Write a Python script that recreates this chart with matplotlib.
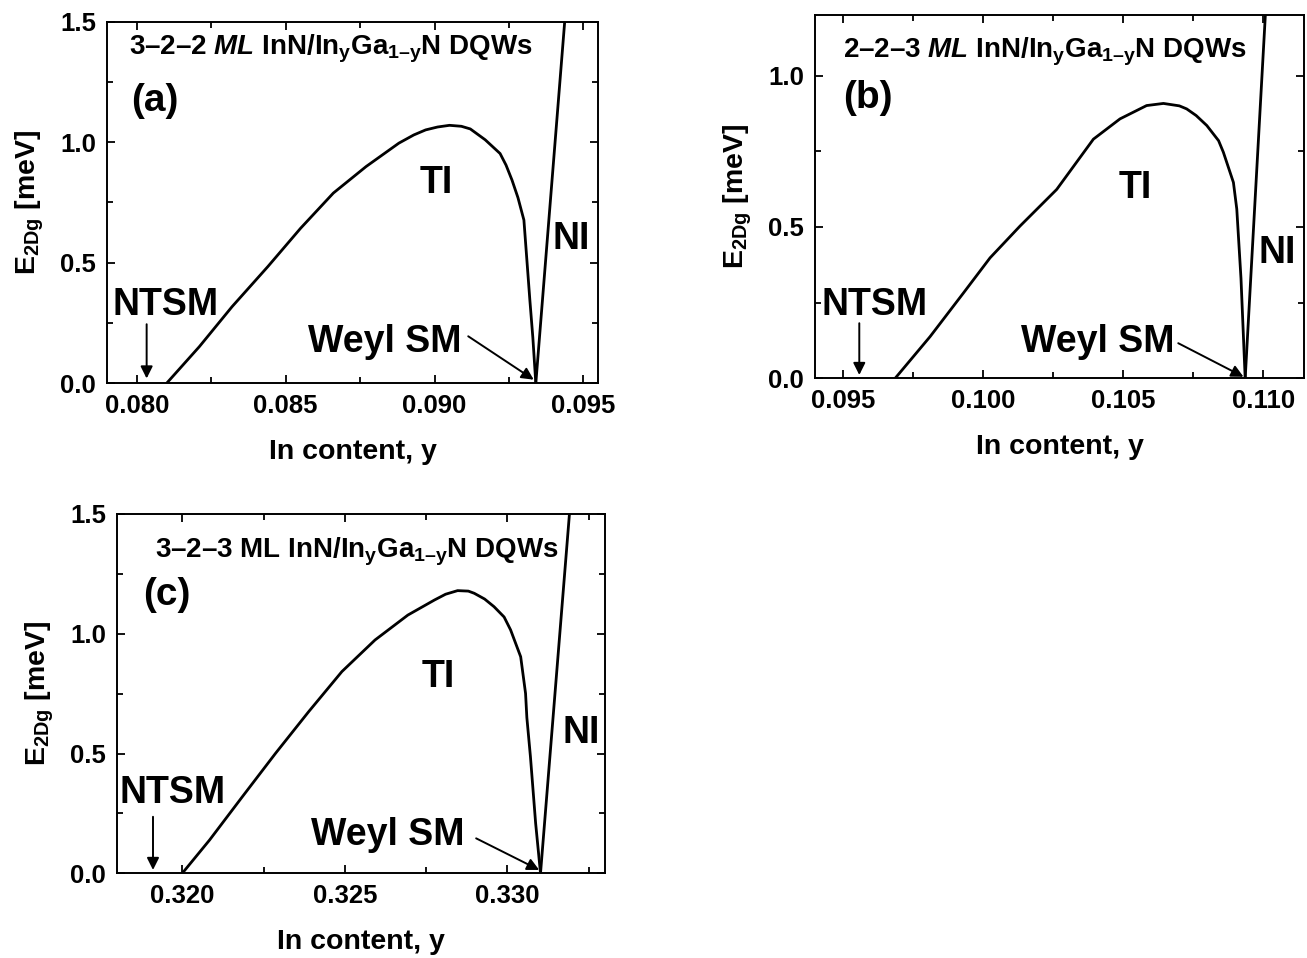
import matplotlib
matplotlib.use("Agg")
import matplotlib.pyplot as plt
from matplotlib.ticker import MultipleLocator, FormatStrFormatter

plt.rcParams['font.family'] = ['Liberation Sans', 'DejaVu Sans']
plt.rcParams['font.weight'] = 'bold'
plt.rcParams['mathtext.fontset'] = 'custom'
plt.rcParams['mathtext.rm'] = 'Liberation Sans:bold'
plt.rcParams['mathtext.bf'] = 'Liberation Sans:bold'
plt.rcParams['mathtext.it'] = 'Liberation Sans:bold:italic'
plt.rcParams['mathtext.default'] = 'bf'

# panel (a): 3-2-2 ML
y_a = [0.0810, 0.0821, 0.0832, 0.0844, 0.0855, 0.0866, 0.0877, 0.0888, 0.0893, 0.0897,
       0.0901, 0.0905, 0.0909, 0.0912, 0.0917, 0.0922, 0.0924, 0.0926, 0.0928, 0.0930,
       0.0931, 0.0932, 0.0933, 0.0934]
e_a = [0.0, 0.152, 0.318, 0.484, 0.643, 0.789, 0.899, 0.996, 1.030, 1.051,
       1.063, 1.070, 1.066, 1.055, 1.010, 0.953, 0.905, 0.843, 0.770, 0.677,
       0.511, 0.345, 0.19, 0.0]
ni_a_y = [0.0934, 0.09437]
ni_a_e = [0.0, 1.5]

# panel (b): 2-2-3 ML
y_b = [0.09685, 0.09810, 0.09929, 0.10024, 0.10131, 0.10262, 0.10393, 0.10488, 0.10583, 0.10643,
       0.1070, 0.10726, 0.1076, 0.10798, 0.1084, 0.10857, 0.10893, 0.10905, 0.1092, 0.10935]
e_b = [0.0, 0.138, 0.282, 0.398, 0.503, 0.624, 0.790, 0.857, 0.901, 0.908,
       0.900, 0.890, 0.868, 0.835, 0.785, 0.747, 0.647, 0.559, 0.33, 0.0]
ni_b_y = [0.10935, 0.11007]
ni_b_e = [0.0, 1.2]

# panel (c): 3-2-3 ML
y_c = [0.3200, 0.32084, 0.32185, 0.32287, 0.32389, 0.32491, 0.32593, 0.32694, 0.32776, 0.3281,
       0.32847, 0.3288, 0.32898, 0.3293, 0.32959, 0.3299, 0.3301, 0.33041, 0.33056, 0.3306,
       0.33071, 0.33087, 0.33102]
e_c = [0.0, 0.139, 0.320, 0.501, 0.675, 0.842, 0.974, 1.078, 1.141, 1.165,
       1.180, 1.178, 1.169, 1.145, 1.113, 1.070, 1.016, 0.904, 0.751, 0.65,
       0.487, 0.209, 0.0]
ni_c_y = [0.33102, 0.33191]
ni_c_e = [0.0, 1.5]

sub = r'InN/In$_{\mathrm{y}}$Ga$_{\mathrm{1–y}}$N DQWs'

panels = [
    dict(rect=[0.0819, 0.5999, 0.3759, 0.3775], y=y_a, e=e_a, ni_y=ni_a_y, ni_e=ni_a_e,
         xlim=(0.0790, 0.0955), ylim=(0, 1.5),
         title=r'3–2–2 $\mathit{ML}$ ' + sub, title_xy=(0.045, 0.925),
         tag='(a)', tag_xy=(0.05, 0.78),
         ntsm=(0.08095, 0.325), ntsm_arrow=(0.08033, 0.245, 0.02),
         weyl=(0.08833, 0.17), weyl_arrow=(0.09113, 0.195, 0.09333, 0.015),
         ti=(0.09004, 0.83), ni=(0.0946, 0.60)),
    dict(rect=[0.6236, 0.6051, 0.3741, 0.3792], y=y_b, e=e_b, ni_y=ni_b_y, ni_e=ni_b_e,
         xlim=(0.09399, 0.11145), ylim=(0, 1.2),
         title=r'2–2–3 $\mathit{ML}$ ' + sub, title_xy=(0.058, 0.899),
         tag='(b)', tag_xy=(0.058, 0.773),
         ntsm=(0.0961, 0.243), ntsm_arrow=(0.09557, 0.182, 0.011),
         weyl=(0.10408, 0.121), weyl_arrow=(0.10696, 0.116, 0.10929, 0.005),
         ti=(0.10542, 0.63), ni=(0.11048, 0.414)),
    dict(rect=[0.0897, 0.0884, 0.3731, 0.3751], y=y_c, e=e_c, ni_y=ni_c_y, ni_e=ni_c_e,
         xlim=(0.318, 0.333), ylim=(0, 1.5),
         title=r'3–2–3 ML ' + sub, title_xy=(0.077, 0.895),
         tag='(c)', tag_xy=(0.053, 0.775),
         ntsm=(0.31969, 0.334), ntsm_arrow=(0.31910, 0.236, 0.014),
         weyl=(0.32632, 0.16), weyl_arrow=(0.32904, 0.146, 0.33098, 0.014),
         ti=(0.32787, 0.821), ni=(0.33226, 0.585)),
]

fig = plt.figure(figsize=(13.07, 9.58), dpi=100)

for p in panels:
    ax = fig.add_axes(p['rect'])
    ax.plot(p['y'], p['e'], color='black', lw=2.0, solid_joinstyle='round')
    ax.plot(p['ni_y'], p['ni_e'], color='black', lw=2.0)
    ax.set_xlim(*p['xlim'])
    ax.set_ylim(*p['ylim'])
    ax.xaxis.set_major_locator(MultipleLocator(0.005))
    ax.xaxis.set_minor_locator(MultipleLocator(0.0025))
    ax.yaxis.set_major_locator(MultipleLocator(0.5))
    ax.yaxis.set_minor_locator(MultipleLocator(0.25))
    ax.xaxis.set_major_formatter(FormatStrFormatter('%.3f'))
    ax.yaxis.set_major_formatter(FormatStrFormatter('%.1f'))
    ax.tick_params(which='both', direction='in', top=True, right=True, width=1.3, labelsize=18.5, pad=8)
    ax.tick_params(which='major', length=6)
    ax.tick_params(which='minor', length=4)
    for s in ax.spines.values():
        s.set_linewidth(1.4)
    for lab in ax.get_xticklabels() + ax.get_yticklabels():
        lab.set_fontweight('bold')
    ax.set_xlabel('In content, y', fontsize=20.5, fontweight='bold', labelpad=15)
    ax.set_ylabel(r'E$_{\mathrm{2Dg}}$ [meV]', fontsize=20.5, fontweight='bold', labelpad=10)

    ax.text(*p['title_xy'], p['title'], transform=ax.transAxes, fontsize=20, fontweight='bold',
            ha='left', va='center')
    ax.text(*p['tag_xy'], p['tag'], transform=ax.transAxes, fontsize=28, fontweight='bold',
            ha='left', va='center')
    ax.text(*p['ntsm'], 'NTSM', fontsize=27, fontweight='bold', ha='center', va='center')
    ax.text(*p['weyl'], 'Weyl SM', fontsize=27, fontweight='bold', ha='center', va='center')
    ax.text(*p['ti'], 'TI', fontsize=27, fontweight='bold', ha='center', va='center')
    ax.text(*p['ni'], 'NI', fontsize=27, fontweight='bold', ha='center', va='center')

    nx, ny0, ny1 = p['ntsm_arrow']
    ax.annotate('', xy=(nx, ny1), xytext=(nx, ny0),
                arrowprops=dict(arrowstyle='-|>', color='black', lw=1.4, mutation_scale=18,
                                shrinkA=0, shrinkB=0))
    wx0, wy0, wx1, wy1 = p['weyl_arrow']
    ax.annotate('', xy=(wx1, wy1), xytext=(wx0, wy0),
                arrowprops=dict(arrowstyle='-|>', color='black', lw=1.4, mutation_scale=18,
                                shrinkA=0, shrinkB=0))

fig.savefig('out.png', dpi=100)
